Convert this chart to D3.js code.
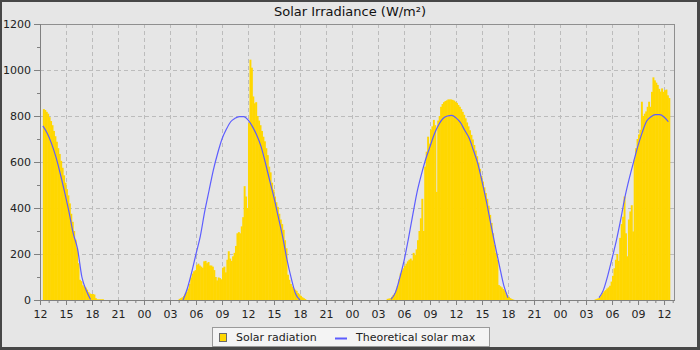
<!DOCTYPE html>
<html><head><meta charset="utf-8">
<script src="https://cdn.jsdelivr.net/npm/d3@7/dist/d3.min.js"></script>
<style>
html,body{margin:0;padding:0;background:#e6e6e6;}
svg{display:block;font-family:"DejaVu Sans",sans-serif;}
</style>
</head><body>
<svg id="chart" width="700" height="350"></svg>
<script>
// ---------- DATA ----------
const chartTitle = "Solar Irradiance (W/m²)";
const seriesNames = ["Solar radiation", "Theoretical solar max"];
const yTickValues = [0, 200, 400, 600, 800, 1000, 1200];
const yMinorTickValues = [100, 300, 500, 700, 900, 1100];
const xDomainLimits = ["2024-06-01T12:00", "2024-06-04T13:16"];

// Solar radiation, 10-minute samples (W/m²)
const radiationStepMinutes = 10;
const radiationStarts = ["2024-06-01T12:20", "2024-06-02T04:00", "2024-06-03T04:00", "2024-06-04T04:00"];
const radiationDay1 = [830,826,818,810,795,778,760,735,712,688,660,635,605,575,542,510,482,455,420,375,340,300,262,225,160,88,82,64,58,54,45,34,28,26,26,24,8,3,3,3,3,3];
const radiationDay2 = [5,8,12,18,28,35,50,70,98,115,
  125,130,152,158,150,145,140,168,170,160,
  165,150,150,145,130,100,85,98,95,90,
  140,145,120,175,212,180,170,190,205,235,
  290,295,290,320,360,495,450,400,770,1045,
  1010,885,855,860,800,780,760,735,710,690,
  660,630,580,555,510,480,450,425,405,375,
  350,330,305,260,225,110,88,70,58,50,
  45,40,30,25,18,12,8,4];
const radiationDay3 = [5,6,8,14,22,30,42,60,90,115,
  128,138,148,158,168,175,180,172,205,195,
  220,260,300,355,440,300,580,645,710,680,
  740,755,783,760,470,780,800,840,852,860,
  865,868,872,872,872,870,867,862,857,848,
  840,830,818,805,790,772,755,738,718,698,
  674,650,625,598,570,540,515,490,465,440,
  410,370,335,290,240,205,175,65,60,55,
  48,42,32,22,14,8,4,2];
const radiationDay4 = [3,5,8,14,22,30,38,43,50,55,
  62,80,105,138,175,200,170,270,330,362,
  450,290,190,350,385,412,298,610,660,700,
  720,740,862,800,810,820,840,862,840,905,
  968,955,945,935,918,906,920,905,912,915,
  890,878];

// Theoretical solar max, 30-minute samples (W/m²)
const theoreticalStepMinutes = 30;
const theoreticalStarts = ["2024-06-01T12:20", "2024-06-02T04:30", "2024-06-03T04:30", "2024-06-04T04:30"];
const theoreticalDay1 = [757,725,680,622,550,470,385,290,222,100,42,2];
const theoreticalDay2 = [0,50,120,200,278,384,475,565,638,700,742,775,790,797,797,783,755,717,668,597,520,445,360,274,175,93,26,0];
const theoreticalDay3 = [3,32,95,170,265,368,468,545,612,667,722,762,789,800,803,792,772,738,705,652,595,516,430,333,240,151,65,10];
const theoreticalDay4 = [10,43,105,180,258,349,449,530,602,671,730,778,797,806,806,796,775];

// ---------- CHART ----------
const parse = d3.utcParse("%Y-%m-%dT%H:%M");
const W = 700, H = 350;
const plot = {left: 40, right: 675, top: 24, bottom: 300};

const svg = d3.select("#chart");

// frame
svg.append("rect").attr("x", 0).attr("y", 0).attr("width", W).attr("height", H).attr("fill", "#474747");
svg.append("rect").attr("x", 2).attr("y", 2).attr("width", W - 5).attr("height", H - 5).attr("fill", "#e6e6e6");

const x = d3.scaleUtc().domain(xDomainLimits.map(parse)).range([plot.left, plot.right]);
const y = d3.scaleLinear().domain([0, 1200]).range([plot.bottom, plot.top]);

// plot background
svg.append("rect").attr("x", plot.left).attr("y", plot.top)
  .attr("width", plot.right - plot.left).attr("height", plot.bottom - plot.top)
  .attr("fill", "#e6e6e6");

// grid
const majorX = x.ticks(d3.utcHour.every(3));
const grid = svg.append("g").attr("stroke", "#bcbcbc").attr("stroke-width", 1).attr("stroke-dasharray", "4,3");
grid.selectAll("line.v").data(majorX).join("line").attr("class", "v")
  .attr("x1", d => Math.round(x(d)) + 0.5).attr("x2", d => Math.round(x(d)) + 0.5)
  .attr("y1", plot.top).attr("y2", plot.bottom);
grid.selectAll("line.h").data(yTickValues.slice(1)).join("line").attr("class", "h")
  .attr("x1", plot.left).attr("x2", plot.right)
  .attr("y1", d => Math.round(y(d)) + 0.5).attr("y2", d => Math.round(y(d)) + 0.5);

// clip
svg.append("clipPath").attr("id", "clip").append("rect")
  .attr("x", plot.left).attr("y", plot.top).attr("width", plot.right - plot.left).attr("height", plot.bottom - plot.top);

// bars
const radiationDays = [radiationDay1, radiationDay2, radiationDay3, radiationDay4];
const barData = [];
radiationDays.forEach((arr, k) => {
  const t0 = parse(radiationStarts[k]);
  arr.forEach((v, i) => {
    const t = d3.utcMinute.offset(t0, i * radiationStepMinutes);
    barData.push({t: t, t1: d3.utcMinute.offset(t, radiationStepMinutes), v: v});
  });
});
svg.append("g").attr("clip-path", "url(#clip)")
  .selectAll("rect").data(barData).join("rect")
  .attr("x", d => x(d.t))
  .attr("width", d => x(d.t1) - x(d.t) + 0.5)
  .attr("y", d => y(d.v))
  .attr("height", d => y(0) - y(d.v))
  .attr("fill", "#ffd700");

// theoretical line
const theoreticalDays = [theoreticalDay1, theoreticalDay2, theoreticalDay3, theoreticalDay4];
const line = d3.line().x(d => x(d.t)).y(d => y(d.v)).curve(d3.curveMonotoneX);
const lineG = svg.append("g").attr("clip-path", "url(#clip)");
theoreticalDays.forEach((arr, k) => {
  const t0 = parse(theoreticalStarts[k]);
  const pts = arr.map((v, i) => ({t: d3.utcMinute.offset(t0, i * theoreticalStepMinutes), v: v}));
  lineG.append("path").datum(pts).attr("d", line)
    .attr("fill", "none").attr("stroke", "#5d5dff").attr("stroke-width", 1.2);
});

// plot border
svg.append("rect").attr("x", plot.left + 0.5).attr("y", plot.top + 0.5)
  .attr("width", plot.right - plot.left - 1).attr("height", plot.bottom - plot.top)
  .attr("fill", "none").attr("stroke", "#8f8f8f");

// axes
function styleAxis(g) {
  g.select(".domain").remove();
  g.selectAll("line").attr("stroke", "#808080");
  g.selectAll("text").attr("fill", "#222").attr("font-size", 11).attr("font-family", "DejaVu Sans, sans-serif");
}
const yAxis = svg.append("g").attr("transform", `translate(${plot.left},0)`)
  .call(d3.axisLeft(y).tickValues(yTickValues).tickFormat(d3.format("d")).tickSize(6).tickPadding(3).tickSizeOuter(0));
styleAxis(yAxis);
const yMinor = svg.append("g").attr("transform", `translate(${plot.left},0)`)
  .call(d3.axisLeft(y).tickValues(yMinorTickValues).tickSize(3).tickFormat("").tickSizeOuter(0));
styleAxis(yMinor);

const xAxis = svg.append("g").attr("transform", `translate(0,${plot.bottom})`)
  .call(d3.axisBottom(x).ticks(d3.utcHour.every(3)).tickFormat(d3.utcFormat("%H")).tickSize(5).tickPadding(5).tickSizeOuter(0));
styleAxis(xAxis);
const xMinor = svg.append("g").attr("transform", `translate(0,${plot.bottom})`)
  .call(d3.axisBottom(x).ticks(d3.utcHour.every(1)).tickFormat("").tickSize(3).tickSizeOuter(0));
styleAxis(xMinor);

// axis lines
svg.append("line").attr("x1", plot.left + 0.5).attr("x2", plot.left + 0.5).attr("y1", plot.top).attr("y2", plot.bottom + 0.5).attr("stroke", "#808080");
svg.append("line").attr("x1", plot.left).attr("x2", plot.right).attr("y1", plot.bottom + 0.5).attr("y2", plot.bottom + 0.5).attr("stroke", "#808080");

// title
svg.append("text").attr("x", 350).attr("y", 16).attr("text-anchor", "middle")
  .attr("font-size", 13).attr("fill", "#111").text(chartTitle);

// legend
const lg = svg.append("g");
lg.append("rect").attr("x", 212.5).attr("y", 327.5).attr("width", 277).attr("height", 19)
  .attr("fill", "#f4f4f4").attr("stroke", "#9a9a9a");
lg.append("rect").attr("x", 219.5).attr("y", 333.5).attr("width", 7).attr("height", 8)
  .attr("fill", "#ffd700").attr("stroke", "#6b6b6b");
lg.append("text").attr("x", 236).attr("y", 341).attr("font-size", 11).attr("fill", "#222").text(seriesNames[0]);
lg.append("line").attr("x1", 335).attr("x2", 347).attr("y1", 338.5).attr("y2", 338.5)
  .attr("stroke", "#5d5dff").attr("stroke-width", 2);
lg.append("text").attr("x", 356).attr("y", 341).attr("font-size", 11).attr("fill", "#222").text(seriesNames[1]);
</script>
</body></html>
